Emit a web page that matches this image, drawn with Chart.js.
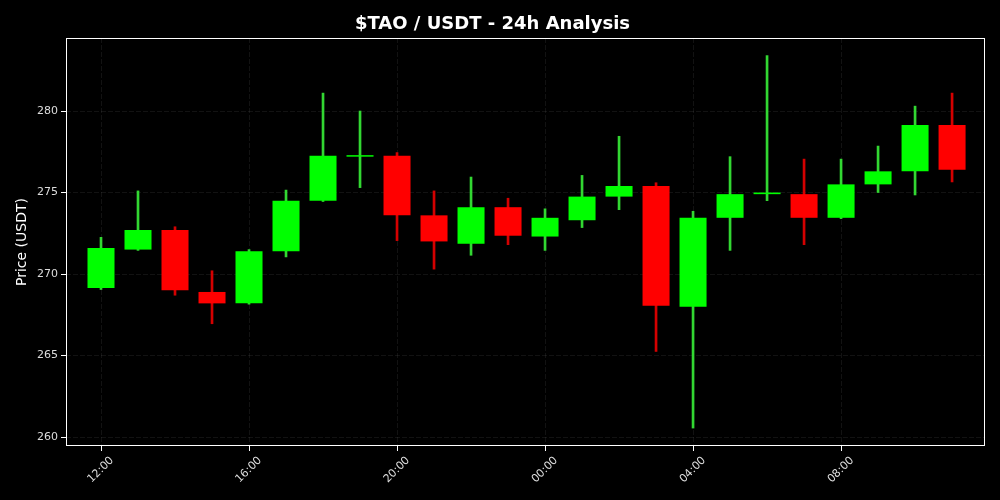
<!DOCTYPE html>
<html>
<head>
<meta charset="utf-8">
<script src="https://cdn.jsdelivr.net/npm/chart.js@4.4.0/dist/chart.umd.min.js"></script>
<style>
    html, body { margin: 0; padding: 0; background: #000; }
    #wrap { width: 1000px; height: 500px; }
</style>
</head>
<body>
<div id="wrap"><canvas id="candleChart"></canvas></div>
<script>
const times = ["12:00", "13:00", "14:00", "15:00", "16:00", "17:00", "18:00", "19:00",
    "20:00", "21:00", "22:00", "23:00", "00:00", "01:00", "02:00", "03:00",
    "04:00", "05:00", "06:00", "07:00", "08:00", "09:00", "10:00", "11:00"];
const opens = [269.15, 271.5, 272.7, 268.9, 268.2, 271.4, 274.5, 277.2,
    277.25, 273.6, 271.85, 274.1, 272.3, 273.3, 274.75, 275.4,
    268.0, 273.45, 274.9, 274.9, 273.45, 275.5, 276.3, 279.15];
const closes = [271.6, 272.7, 269.0, 268.2, 271.4, 274.5, 277.25, 277.25,
    273.6, 272.0, 274.1, 272.35, 273.45, 274.75, 275.4, 268.05,
    273.45, 274.9, 275.0, 273.45, 275.5, 276.3, 279.15, 276.4];
const highs = [272.25, 275.1, 272.9, 270.2, 271.5, 275.15, 281.1, 280.0,
    277.45, 275.1, 275.95, 274.65, 274.0, 276.05, 278.45, 275.6,
    273.85, 277.2, 283.4, 277.05, 277.05, 277.85, 280.3, 281.1];
const lows = [269.05, 271.45, 268.7, 266.95, 268.15, 271.05, 274.45, 275.3,
    272.05, 270.3, 271.15, 271.8, 271.45, 272.85, 273.95, 265.25,
    260.55, 271.45, 274.5, 271.8, 273.4, 275.0, 274.85, 275.65];
const priceTicks = [260, 265, 270, 275, 280];

const up = closes.map((c, i) => c >= opens[i]);
const bodies = times.map((t, i) => ({ x: i, y: [opens[i], closes[i]] }));
const wicks = times.map((t, i) => ({ x: i, y: [lows[i], highs[i]] }));

// white box around the plot area
const frame = {
    id: 'frame',
    afterDraw(chart) {
        const { ctx, chartArea: a } = chart;
        ctx.save();
        ctx.strokeStyle = '#ffffff';
        ctx.lineWidth = 1;
        ctx.strokeRect(a.left + 0.5, a.top + 0.5, a.right - a.left - 1, a.bottom - a.top - 1);
        ctx.restore();
    }
};

Chart.defaults.font.family = "'DejaVu Sans', sans-serif";

const ctx = document.getElementById("candleChart").getContext("2d");
new Chart(ctx, {
    type: "bar",
    data: {
        datasets: [{
            label: "body",
            data: bodies,
            backgroundColor: up.map(u => u ? "#00ff00" : "#ff0000"),
            borderWidth: 0,
            grouped: false,
            barPercentage: 0.73,
            categoryPercentage: 1,
            minBarLength: 1.5
        }, {
            label: "wick",
            data: wicks,
            backgroundColor: up.map(u => u ? "#32d732" : "#d40000"),
            borderWidth: 0,
            grouped: false,
            barThickness: 2
        }]
    },
    options: {
        responsive: true,
        maintainAspectRatio: false,
        animation: false,
        layout: { padding: { left: 0, right: 15, top: 0, bottom: 0 } },
        plugins: {
            legend: { display: false },
            tooltip: { enabled: false },
            title: {
                display: true,
                text: "$TAO / USDT - 24h Analysis",
                color: "#ffffff",
                font: { size: 18, weight: "bold" },
                padding: { top: 14, bottom: 2.4 }
            }
        },
        scales: {
            x: {
                type: "linear",
                min: -0.946,
                max: 23.89,
                offset: false,
                afterFit(scale) { scale.height = 54; },
                ticks: {
                    stepSize: 4,
                    includeBounds: false,
                    color: "#dddddd",
                    font: { size: 11 },
                    maxRotation: 45,
                    minRotation: 45,
                    labelOffset: 11,
                    padding: 3,
                    callback: v => times[v]
                },
                grid: {
                    offset: false,
                    color: "rgba(255,255,255,0.07)",
                    tickColor: "#ffffff",
                    tickLength: 5
                },
                border: { display: false, dash: [5, 2] }
            },
            y: {
                min: 259.45,
                max: 284.48,
                afterFit(scale) { scale.width = 66; },
                afterBuildTicks(scale) { scale.ticks = priceTicks.map(v => ({ value: v })); },
                ticks: {
                    color: "#dddddd",
                    font: { size: 11 },
                    padding: 3
                },
                grid: {
                    color: "rgba(255,255,255,0.07)",
                    tickColor: "#ffffff",
                    tickLength: 5
                },
                border: { display: false, dash: [5, 2] },
                title: {
                    display: true,
                    text: "Price (USDT)",
                    color: "#ffffff",
                    font: { size: 14 },
                    padding: { top: 14, bottom: 0 }
                }
            }
        }
    },
    plugins: [frame]
});
</script>
</body>
</html>
